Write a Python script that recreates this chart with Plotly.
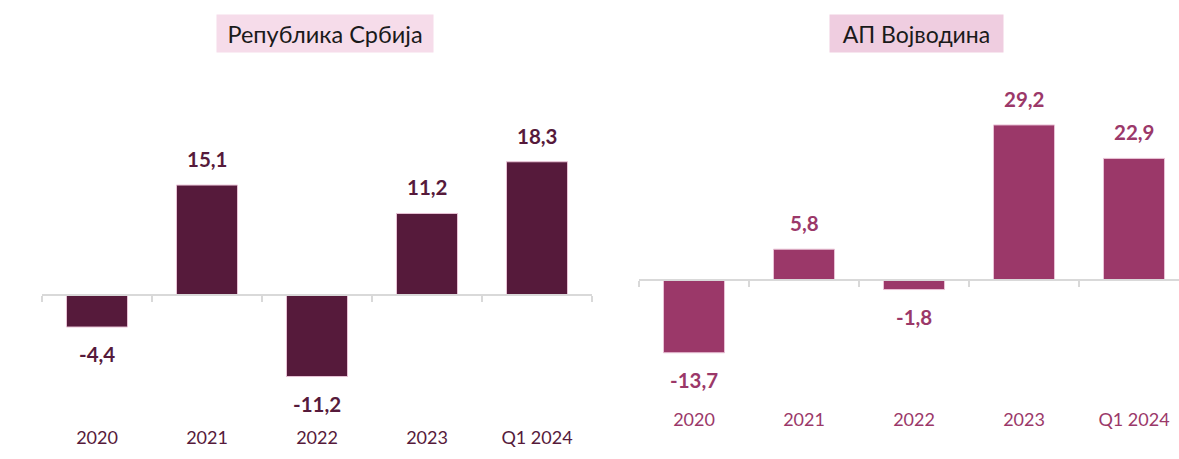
import plotly.graph_objects as go

categories = ["2020", "2021", "2022", "2023", "Q1 2024"]
srbija_values = [-4.4, 15.1, -11.2, 11.2, 18.3]
vojvodina_values = [-13.7, 5.8, -1.8, 29.2, 22.9]
title_left = "Република Србија"
title_right = "АП Војводина"

W, H = 1179, 459
C_LEFT = "#561a3b"
C_RIGHT = "#9b3869"
OUTLINE = "#e9c3d6"
AXIS_C = "#d9d9d9"
FONT = "Lato"

def px_x(p):
    return p / W

def px_y(p):
    return 1 - p / H

def fmt(v):
    return f"{v:.1f}".replace(".", ",")

fig = go.Figure()
fig.add_trace(go.Bar(x=categories, y=srbija_values, marker=dict(color=C_LEFT, line=dict(color=OUTLINE, width=1)),
                     xaxis="x", yaxis="y", hoverinfo="skip"))
fig.add_trace(go.Bar(x=categories, y=vojvodina_values, marker=dict(color=C_RIGHT, line=dict(color=OUTLINE, width=1)),
                     xaxis="x2", yaxis="y2", hoverinfo="skip"))

top_px, bot_l, bot_r = 90, 440, 440
l_zero, l_k = 295, 7.28
r_zero, r_k = 280, 5.31

fig.update_layout(
    width=W, height=H, margin=dict(l=0, r=0, t=0, b=0),
    paper_bgcolor="white", plot_bgcolor="white", showlegend=False, bargap=0.445,
    font=dict(family=FONT),
    xaxis=dict(domain=[px_x(42), px_x(592)], range=[-0.5, 4.5], type="category",
               anchor="free", position=px_y(l_zero), showline=True, linecolor=AXIS_C, linewidth=1.5,
               ticks="outside", tickson="boundaries", ticklen=6, tickcolor=AXIS_C, tickwidth=1.5,
               showgrid=False, zeroline=False, ticklabelstandoff=127,
               tickfont=dict(size=18, color=C_LEFT, family=FONT)),
    yaxis=dict(domain=[px_y(bot_l), px_y(top_px)],
               range=[-(bot_l - l_zero) / l_k, (l_zero - top_px) / l_k],
               visible=False, anchor="x"),
    xaxis2=dict(domain=[px_x(639), 1.0], range=[-0.5, (1179 - 694) / 110], type="category",
                anchor="free", position=px_y(r_zero), showline=True, linecolor=AXIS_C, linewidth=1.5,
                ticks="outside", tickson="boundaries", ticklen=6, tickcolor=AXIS_C, tickwidth=1.5,
                showgrid=False, zeroline=False, ticklabelstandoff=124,
                tickfont=dict(size=18, color=C_RIGHT, family=FONT)),
    yaxis2=dict(domain=[px_y(bot_r), px_y(top_px)],
                range=[-(bot_r - r_zero) / r_k, (r_zero - top_px) / r_k],
                visible=False, anchor="x2"),
)

anns = []
for i, v in enumerate(srbija_values):
    anns.append(dict(x=i, y=v, xref="x", yref="y", text=f"<b>{fmt(v)}</b>", showarrow=False,
                     xanchor="center", yanchor="middle",
                     yshift=26 if v >= 0 else -27, font=dict(size=20.5, color=C_LEFT, family=FONT)))
for i, v in enumerate(vojvodina_values):
    anns.append(dict(x=i, y=v, xref="x2", yref="y2", text=f"<b>{fmt(v)}</b>", showarrow=False,
                     xanchor="center", yanchor="middle",
                     yshift=26 if v >= 0 else -27, font=dict(size=20.5, color=C_RIGHT, family=FONT)))

anns.append(dict(x=px_x(325), y=px_y(33.5), xref="paper", yref="paper", text=title_left, showarrow=False,
                 xanchor="center", yanchor="middle",
                 width=216, height=37, bgcolor="#f6dcea", borderpad=0,
                 font=dict(size=23.5, color="#1a1a1a", family=FONT)))
anns.append(dict(x=px_x(916.5), y=px_y(33.5), xref="paper", yref="paper", text=title_right, showarrow=False,
                 xanchor="center", yanchor="middle",
                 width=173, height=37, bgcolor="#efcde0", borderpad=0,
                 font=dict(size=23, color="#1a1a1a", family=FONT)))
fig.update_layout(annotations=anns)

fig.write_html("out.html", config={"displayModeBar": False},
               post_script="document.body.style.margin='0';")
